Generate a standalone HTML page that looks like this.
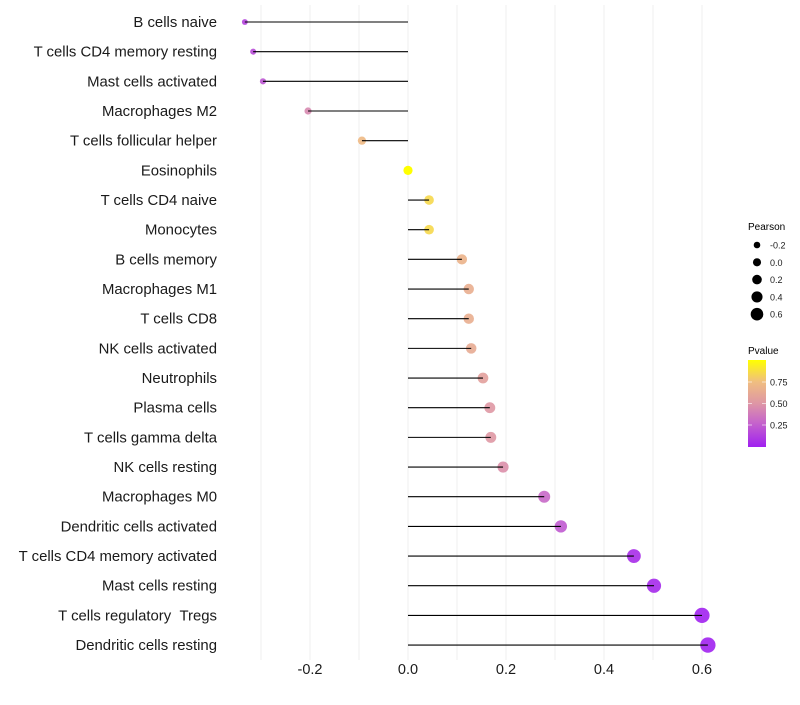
<!DOCTYPE html>
<html><head><meta charset="utf-8"><style>
body{margin:0;background:#fff;font-family:"Liberation Sans",sans-serif;}
</style></head><body>
<svg id="chart" width="800" height="700" xmlns="http://www.w3.org/2000/svg" font-family="Liberation Sans, sans-serif"></svg>
<script>
const categories=["B cells naive","T cells CD4 memory resting","Mast cells activated","Macrophages M2","T cells follicular helper","Eosinophils","T cells CD4 naive","Monocytes","B cells memory","Macrophages M1","T cells CD8","NK cells activated","Neutrophils","Plasma cells","T cells gamma delta","NK cells resting","Macrophages M0","Dendritic cells activated","T cells CD4 memory activated","Mast cells resting","T cells regulatory\u00a0\u00a0Tregs","Dendritic cells resting"];
const pearson=[-0.333,-0.316,-0.296,-0.204,-0.094,0.0,0.043,0.043,0.110,0.124,0.124,0.129,0.153,0.167,0.169,0.194,0.278,0.312,0.461,0.502,0.600,0.612];
const pvalues=[0.14,0.18,0.22,0.44,0.72,1.0,0.85,0.85,0.68,0.65,0.65,0.63,0.56,0.51,0.51,0.47,0.3,0.24,0.05,0.04,0.01,0.01];
const xTicks=[-0.2,0.0,0.2,0.4,0.6];
const xTickLabels=["-0.2","0.0","0.2","0.4","0.6"];
const sizeLegend=[-0.2,0.0,0.2,0.4,0.6];
const sizeLegendLabels=["-0.2","0.0","0.2","0.4","0.6"];
const colorTicks=[0.75,0.5,0.25];
const colorTickLabels=["0.75","0.50","0.25"];

const svg=document.getElementById('chart');
const NS="http://www.w3.org/2000/svg";
const X=v=>408+v*490;
const Y=i=>22+i*29.67;
const R=v=>Math.max(1.6,4.6+5*v);
const stops=[[0,[160,32,240]],[0.3,[200,105,200]],[0.5,[222,150,165]],[0.75,[240,190,128]],[1,[255,255,0]]];
function col(p){for(let k=1;k<stops.length;k++){if(p<=stops[k][0]){const a=stops[k-1],b=stops[k];const t=(p-a[0])/(b[0]-a[0]);return 'rgb('+a[1].map((c,j)=>Math.round(c+(b[1][j]-c)*t)).join(',')+')';}}return 'rgb(255,255,0)';}
function mk(tag,attrs,parent){const e=document.createElementNS(NS,tag);for(const k in attrs)e.setAttribute(k,attrs[k]);(parent||svg).appendChild(e);return e;}

for(let v=-0.3;v<=0.61;v+=0.1){const g=mk('line',{x1:X(v),x2:X(v),y1:5,y2:660,stroke:'#efefef','stroke-width':1});

}
xTicks.forEach((v,i)=>{const t=mk('text',{x:X(v),y:674,'text-anchor':'middle','font-size':14.5,fill:'#1a1a1a'});t.textContent=xTickLabels[i];

});
categories.forEach((c,i)=>{
const y=Y(i);
const l=mk('text',{x:217,y:y+5,'text-anchor':'end','font-size':14.9,fill:'#1a1a1a'});l.textContent=c;


const p=mk('circle',{cx:X(pearson[i]),cy:y,r:R(pearson[i]),fill:col(pvalues[i]),'fill-opacity':pvalues[i]>0.95?1:0.9});


const s=mk('line',{x1:X(0),x2:X(pearson[i]),y1:y,y2:y,stroke:'#000','stroke-width':1.1});


});
const st=mk('text',{x:748,y:230,'font-size':10,fill:'#000'});st.textContent='Pearson';


sizeLegend.forEach((v,i)=>{const y=245+i*17.3;
const c=mk('circle',{cx:757,cy:y,r:R(v)*0.75+0.6,fill:'#000'});


const t=mk('text',{x:770,y:y+3.5,'font-size':9,fill:'#1a1a1a'});t.textContent=sizeLegendLabels[i];

});
const ct=mk('text',{x:748,y:354,'font-size':10,fill:'#000'});ct.textContent='Pvalue';


const defs=mk('defs',{});const lg=mk('linearGradient',{id:'pg',x1:0,y1:1,x2:0,y2:0},defs);
stops.forEach(s=>mk('stop',{offset:s[0],'stop-color':'rgb('+s[1].join(',')+')'},lg));
const bar=mk('rect',{x:748,y:360,width:18,height:87,fill:'url(#pg)'});


colorTicks.forEach((v,i)=>{const y=446.5-v*86;
mk('line',{x1:748,x2:752,y1:y,y2:y,stroke:'#fff','stroke-opacity':0.6});
mk('line',{x1:762,x2:766,y1:y,y2:y,stroke:'#fff','stroke-opacity':0.6});
const t=mk('text',{x:770,y:y+3.5,'font-size':9,fill:'#1a1a1a'});t.textContent=colorTickLabels[i];

});
</script>
</body></html>
